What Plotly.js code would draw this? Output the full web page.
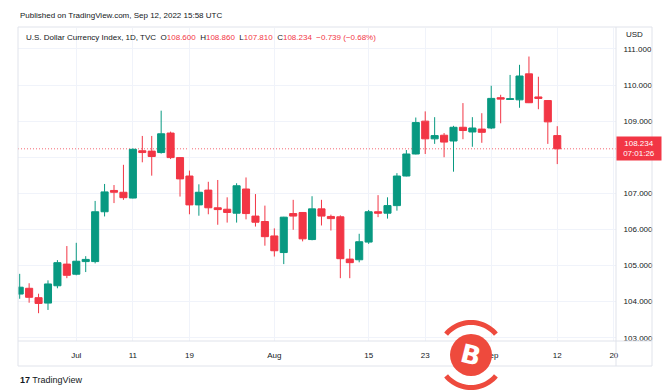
<!DOCTYPE html>
<html>
<head>
<meta charset="utf-8">
<script src="https://cdn.plot.ly/plotly-3.0.1.min.js"></script>
<style>html,body{margin:0;padding:0;background:#fff;}#chart{width:664px;height:392px;}</style>
</head>
<body>
<div id="chart"></div>
<script>
// ---- data (DXY daily) ----
const dates = [
  "2022-06-23","2022-06-24","2022-06-27","2022-06-28","2022-06-29","2022-06-30",
  "2022-07-01","2022-07-04","2022-07-05","2022-07-06","2022-07-07","2022-07-08",
  "2022-07-11","2022-07-12","2022-07-13","2022-07-14","2022-07-15","2022-07-18",
  "2022-07-19","2022-07-20","2022-07-21","2022-07-22","2022-07-25","2022-07-26",
  "2022-07-27","2022-07-28","2022-07-29","2022-08-01","2022-08-02","2022-08-03",
  "2022-08-04","2022-08-05","2022-08-08","2022-08-09","2022-08-10","2022-08-11",
  "2022-08-12","2022-08-15","2022-08-16","2022-08-17","2022-08-18","2022-08-19",
  "2022-08-22","2022-08-23","2022-08-24","2022-08-25","2022-08-26","2022-08-29",
  "2022-08-30","2022-08-31","2022-09-01","2022-09-02","2022-09-05","2022-09-06",
  "2022-09-07","2022-09-08","2022-09-09","2022-09-12"
];
const open = [
  104.21,104.37,104.11,103.96,104.44,105.04,
  104.76,105.11,105.11,106.49,107.08,107.03,
  106.87,108.18,108.17,108.13,108.67,107.99,
  107.48,106.68,107.09,106.60,106.56,106.45,
  107.12,106.37,106.22,105.82,105.36,106.44,
  106.47,105.72,106.57,106.36,106.35,105.18,
  105.16,105.65,106.49,106.45,106.66,107.48,
  108.09,109.00,108.51,108.61,108.45,108.83,
  108.70,108.78,108.81,109.65,109.60,109.59,
  110.31,109.67,109.57,108.600
];
const high = [
  104.77,104.51,104.22,104.59,105.15,105.54,
  105.63,105.26,106.79,107.26,107.23,107.79,
  108.25,108.59,108.59,109.29,108.71,108.00,
  107.63,107.25,107.32,107.37,106.89,107.28,
  107.44,106.98,106.66,106.03,106.35,106.82,
  106.48,106.92,106.82,106.41,106.39,105.46,
  105.88,106.54,106.95,106.89,107.56,108.20,
  109.10,109.27,109.11,108.67,108.87,109.50,
  109.11,109.22,109.98,109.73,110.28,110.56,
  110.79,110.23,109.58,108.860
];
const low = [
  104.08,103.97,103.68,103.77,104.37,104.65,
  104.73,104.82,105.06,106.36,106.73,106.82,
  106.86,107.86,107.49,108.10,107.95,106.91,
  106.42,106.38,106.42,106.13,106.19,106.19,
  106.28,106.08,105.55,105.25,105.04,105.99,
  105.67,105.70,106.11,105.97,104.65,104.65,
  105.09,105.60,106.34,106.30,106.52,107.47,
  108.08,108.09,108.37,108.00,107.60,108.50,
  108.29,108.40,108.78,108.94,109.59,109.37,
  109.50,109.33,108.37,107.810
];
const close = [
  104.40,104.12,103.95,104.49,105.08,104.73,
  105.12,105.17,106.49,107.04,107.03,106.88,
  108.22,108.13,108.02,108.65,107.99,107.40,
  106.68,107.03,106.60,106.55,106.47,107.21,
  106.44,106.20,105.80,105.41,106.34,106.37,
  105.74,106.57,106.37,106.30,105.19,105.08,
  105.66,106.49,106.45,106.66,107.48,108.09,
  108.96,108.51,108.60,108.42,108.83,108.74,
  108.81,108.69,109.63,109.61,109.62,110.25,
  109.51,109.63,108.98,108.234
];
// future trading days shown on the time scale
const futureDates = ["2022-09-13","2022-09-14","2022-09-15","2022-09-16","2022-09-19","2022-09-20"];
const tickDates = ["2022-07-01","2022-07-11","2022-07-19","2022-08-01","2022-08-15","2022-08-23","2022-09-01","2022-09-12","2022-09-20"];
const tickText  = ["Jul","11","19","Aug","15","23","Sep","12","20"];
const priceTicks = [103,104,105,106,107,108,109,110,111];

// ---- build ----
const GREEN = "#089981", RED = "#f23645";
const allDates = dates.concat(futureDates);
const xIdx = dates.map((d, i) => i);
const tickVals = tickDates.map(d => allDates.indexOf(d));
const lastClose = close[close.length - 1];
// the last-price badge covers the price label nearest to it
const priceTickText = priceTicks.map(v => Math.abs(v - lastClose) < 0.4 ? "" : v.toFixed(3));

// pixel helpers for decorations (plot area: x 18..616, y 28..341)
const L = 18, R = 616, T = 28, B = 341;
const px = v => (v - L) / (R - L);
const py = v => (B - v) / (B - T);

function ringPath(cx, cy, rOut, rIn, a0, a1) {
  const pts = [];
  const n = 24;
  for (let k = 0; k <= n; k++) {
    const a = (a0 + (a1 - a0) * k / n) * Math.PI / 180;
    pts.push([cx + rOut * Math.cos(a), cy - rOut * Math.sin(a)]);
  }
  for (let k = n; k >= 0; k--) {
    const a = (a0 + (a1 - a0) * k / n) * Math.PI / 180;
    pts.push([cx + rIn * Math.cos(a), cy - rIn * Math.sin(a)]);
  }
  return "M" + pts.map(p => px(p[0]).toFixed(5) + "," + py(p[1]).toFixed(5)).join("L") + "Z";
}

const trace = {
  type: "candlestick",
  x: xIdx, open: open, high: high, low: low, close: close,
  increasing: {line: {color: GREEN, width: 1}, fillcolor: GREEN},
  decreasing: {line: {color: RED, width: 1}, fillcolor: RED},
  whiskerwidth: 0,
  hoverinfo: "none"
};

const FONT = "Liberation Sans, Arial, sans-serif";
const TXT = "#131722";
const bcx = 471, bcy = 355;

const layout = {
  width: 664, height: 392,
  margin: {l: L, r: 664 - R, t: T, b: 392 - B, pad: 0},
  paper_bgcolor: "#ffffff", plot_bgcolor: "#ffffff",
  showlegend: false,
  boxgap: 0.25, boxgroupgap: 0, boxmode: "overlay",
  font: {family: FONT, size: 8, color: TXT},
  xaxis: {
    range: [-0.18, 63.23],
    tickvals: tickVals, ticktext: tickText,
    showgrid: true, gridcolor: "#f0f3fa", gridwidth: 1,
    zeroline: false, showline: false,
    ticks: "outside", ticklen: 6, tickcolor: "rgba(0,0,0,0)",
    tickfont: {family: FONT, size: 8, color: TXT},
    rangeslider: {visible: false},
    fixedrange: true
  },
  yaxis: {
    side: "right",
    range: [102.91, 111.58],
    tickvals: priceTicks, ticktext: priceTickText,
    showgrid: true, gridcolor: "#f0f3fa", gridwidth: 1,
    zeroline: false, showline: false,
    ticks: "outside", ticklen: 5, tickcolor: "rgba(0,0,0,0)",
    tickfont: {family: FONT, size: 8, color: TXT},
    fixedrange: true
  },
  shapes: [
    // container border
    {type: "rect", xref: "paper", yref: "paper", x0: 0, x1: px(652), y0: py(366), y1: py(27),
     line: {color: "#e0e3eb", width: 1}, fillcolor: "rgba(0,0,0,0)", layer: "above"},
    {type: "line", xref: "paper", yref: "paper", x0: 1, x1: 1, y0: py(366), y1: py(27),
     line: {color: "#e0e3eb", width: 1}, layer: "above"},
    {type: "line", xref: "paper", yref: "paper", x0: 0, x1: px(652), y0: 0, y1: 0,
     line: {color: "#e0e3eb", width: 1}, layer: "above"},
    // last price line
    {type: "line", xref: "paper", yref: "y", x0: 0, x1: 1, y0: lastClose, y1: lastClose,
     line: {color: "rgba(242,54,69,0.75)", width: 1, dash: "1px,2px"}, layer: "below"},
    // watermark logo
    {type: "circle", xref: "paper", yref: "paper", x0: px(bcx - 21), x1: px(bcx + 21), y0: py(bcy + 21), y1: py(bcy - 21),
     fillcolor: "#ee4a3d", line: {width: 0}, layer: "above"},
    {type: "path", xref: "paper", yref: "paper", path: ringPath(bcx, bcy, 35, 30, 40, 140),
     fillcolor: "#ee4a3d", line: {width: 0}, layer: "above"},
    {type: "path", xref: "paper", yref: "paper", path: ringPath(bcx, bcy, 35, 30, 220, 320),
     fillcolor: "#ee4a3d", line: {width: 0}, layer: "above"}
  ],
  annotations: [
    {xref: "paper", yref: "paper", x: px(18), y: py(15), xanchor: "left", yanchor: "middle", showarrow: false,
     text: "Published on TradingView.com, Sep 12, 2022 15:58 UTC", font: {family: FONT, size: 8, color: TXT}},
    {xref: "paper", yref: "paper", x: px(24), y: py(37), xanchor: "left", yanchor: "middle", showarrow: false,
     text: "U.S. Dollar Currency Index, 1D, TVC\u00a0\u00a0O<span style='color:" + RED + "'>" + open[open.length-1].toFixed(3) +
       "</span>\u00a0\u00a0H<span style='color:" + RED + "'>" + high[high.length-1].toFixed(3) +
       "</span>\u00a0\u00a0L<span style='color:" + RED + "'>" + low[low.length-1].toFixed(3) +
       "</span>\u00a0\u00a0C<span style='color:" + RED + "'>" + lastClose.toFixed(3) +
       "\u00a0\u00a0\u22120.739 (\u22120.68%)</span>",
     font: {family: FONT, size: 8, color: TXT}},
    {xref: "paper", yref: "paper", x: px(624), y: py(34), xanchor: "left", yanchor: "middle", showarrow: false,
     text: "USD", font: {family: FONT, size: 8, color: TXT}},
    {xref: "paper", yref: "y", x: 1, y: lastClose, xanchor: "left", yanchor: "middle", showarrow: false,
     text: lastClose.toFixed(3) + "<br>07:01:26", bgcolor: RED, borderpad: 2, width: 40, align: "center",
     font: {family: FONT, size: 8, color: "#ffffff"}},
    {xref: "paper", yref: "paper", x: px(18), y: py(380), xanchor: "left", yanchor: "middle", showarrow: false,
     text: "<b>17</b> TradingView", font: {family: FONT, size: 9, color: TXT}},
    {xref: "paper", yref: "paper", x: px(bcx), y: py(bcy), xanchor: "center", yanchor: "middle", showarrow: false,
     text: "<b>B</b>", textangle: 14, font: {family: "DejaVu Sans, sans-serif", size: 26, color: "#ffffff"}}
  ]
};

Plotly.newPlot("chart", [trace], layout, {staticPlot: true, displayModeBar: false});
</script>
</body>
</html>
